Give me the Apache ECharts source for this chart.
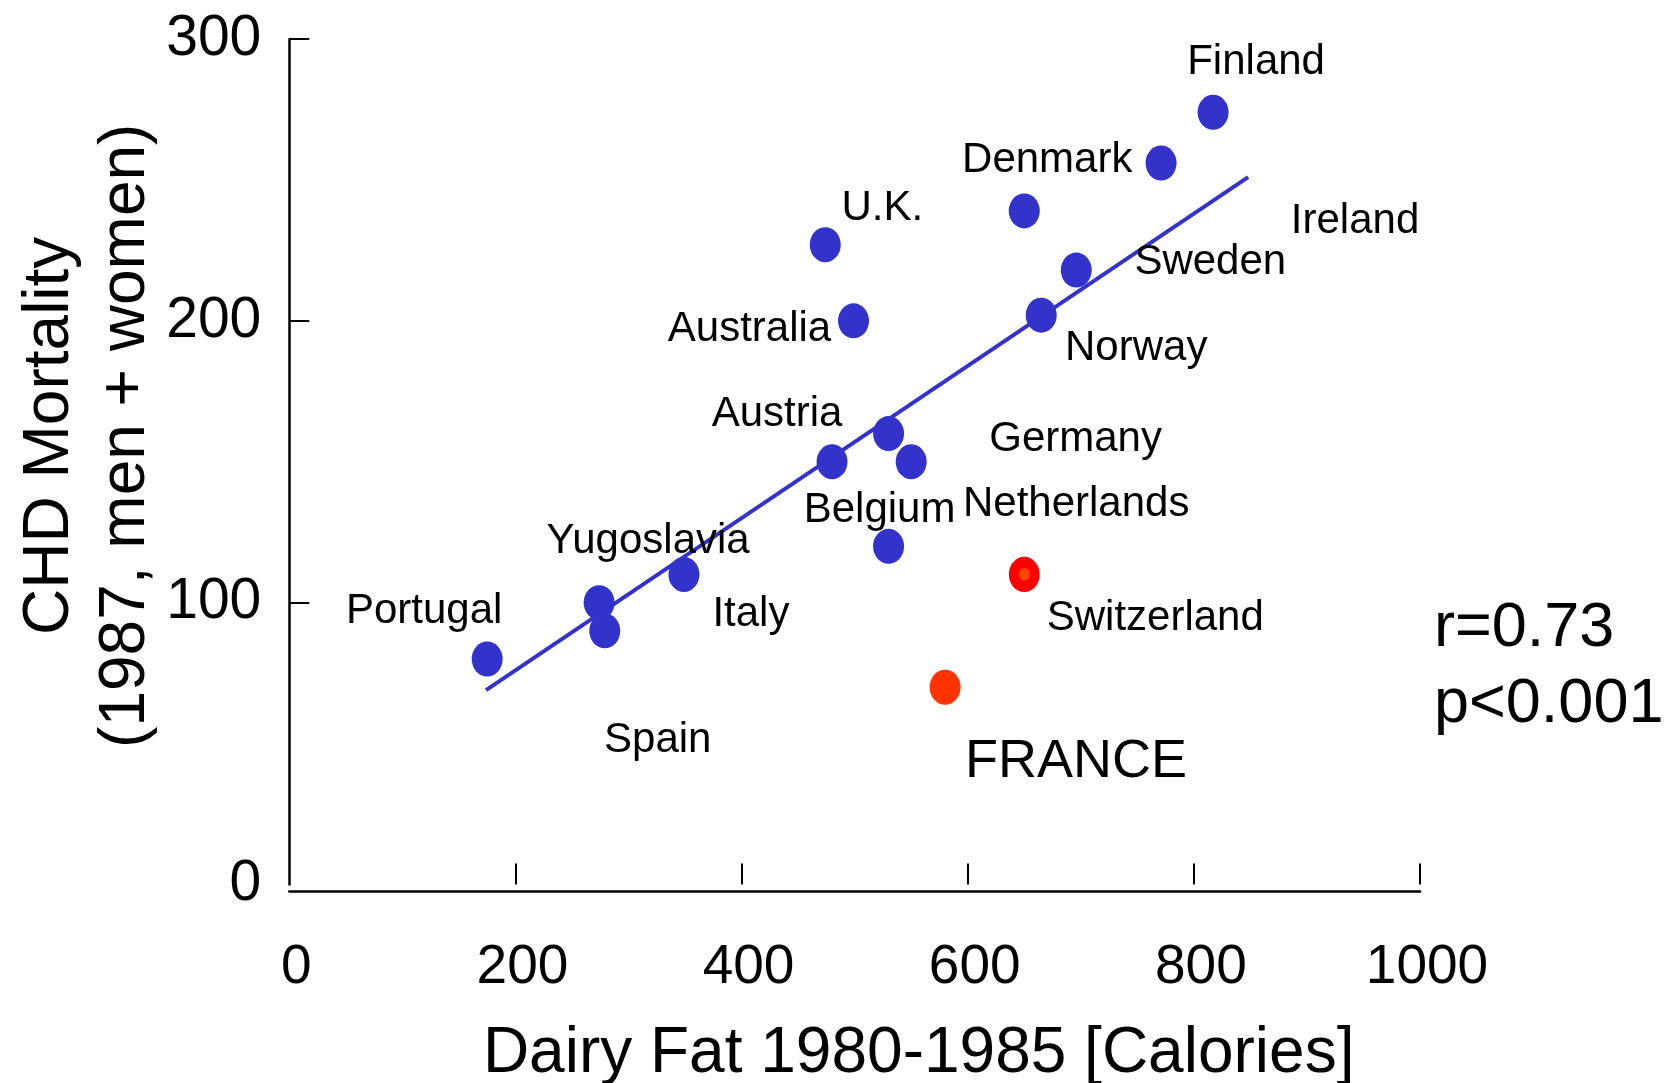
<!DOCTYPE html>
<html>
<head>
<meta charset="utf-8">
<title>Dairy fat vs CHD mortality</title>
<script src="https://cdn.jsdelivr.net/npm/echarts@6/dist/echarts.min.js"></script>
<style>
    html, body { margin: 0; padding: 0; background: #fff; }
    #dairy_scatter { width: 1669px; height: 1083px; }
</style>
</head>
<body>
<div id="dairy_scatter"></div>
<script>

// Data
// ------------------------------

var countries = ['Portugal', 'Yugoslavia', 'Spain', 'Italy', 'Austria', 'Germany', 'Netherlands', 'Belgium',
                 'Australia', 'U.K.', 'Denmark', 'Norway', 'Sweden', 'Ireland', 'Finland'];
var dairyFat = [175, 274, 279, 349, 480, 530, 550, 530, 499, 474, 650, 665, 696, 771, 817];
var chdMortality = [80, 100, 90, 110, 150, 160, 150, 120, 200, 227, 239, 202, 218, 256, 274];

var swissName = 'Switzerland';
var swissFat = 650;
var swissChd = 110;

var franceName = 'FRANCE';
var franceFat = 580;
var franceChd = 70;

var fitFat = [174, 848];
var fitChd = [69, 251];

var xTicks = [200, 400, 600, 800, 1000];
var yTicks = [100, 200, 300];


// Setup module
// ------------------------------

var DairyFatScatter = function() {

    var FONT = '"Liberation Sans", Arial, Helvetica, sans-serif';
    var ELLIPSE = 'path://M0,50 A50,50 0 1,0 100,50 A50,50 0 1,0 0,50 Z';

    // Label offsets from each dot centre, in pixels
    var labelOffsets = {
        'Portugal': [-63, -48],
        'Yugoslavia': [49, -61],
        'Spain': [53, 110],
        'Italy': [67, 40],
        'Austria': [-55, -47],
        'Germany': [187, 6],
        'Netherlands': [165, 43],
        'Belgium': [-9, -36],
        'Australia': [-104, 9],
        'U.K.': [57, -36],
        'Denmark': [23, -50],
        'Norway': [95, 33],
        'Sweden': [134, -8],
        'Ireland': [194, 58],
        'Finland': [43, -50],
        'Switzerland': [131, 44],
        'FRANCE': [131, 75]
    };

    var makeLabel = function(name, size) {
        return {
            show: true,
            formatter: '{b}',
            position: 'inside',
            offset: labelOffsets[name],
            align: 'center',
            verticalAlign: 'middle',
            color: '#000',
            opacity: 1,
            fontSize: size,
            fontFamily: FONT
        };
    };

    var _scatterExample = function() {
        if (typeof echarts == 'undefined') {
            console.warn('Warning - echarts.min.js is not loaded.');
            return;
        }

        var element = document.getElementById('dairy_scatter');
        if (!element) {
            return;
        }

        var chart = echarts.init(element, null, {renderer: 'canvas'});

        var blueData = countries.map(function(name, i) {
            return {
                name: name,
                value: [dairyFat[i], chdMortality[i]],
                label: makeLabel(name, 42)
            };
        });

        chart.setOption({
            animation: false,
            backgroundColor: '#fff',
            textStyle: {
                fontFamily: FONT
            },

            grid: {
                left: 289.3,
                right: 249,
                top: 39,
                bottom: 198.5,
                containLabel: false,
                outerBoundsMode: 'none'
            },

            xAxis: [
                // Ticks, sitting on the zero line of the y axis
                {
                    type: 'value',
                    position: 'bottom',
                    min: 0,
                    max: 1000,
                    interval: 200,
                    axisLine: {show: false},
                    axisTick: {
                        inside: true,
                        length: 21,
                        customValues: xTicks,
                        lineStyle: {color: '#000', width: 2}
                    },
                    axisLabel: {show: false},
                    splitLine: {show: false}
                },
                // Detached axis line with labels and title
                {
                    type: 'value',
                    position: 'bottom',
                    min: 0,
                    max: 1000,
                    interval: 200,
                    offset: 6.5,
                    name: 'Dairy Fat 1980-1985 [Calories]',
                    nameLocation: 'middle',
                    nameMoveOverlap: false,
                    nameGap: 131,
                    nameTextStyle: {
                        fontSize: 64,
                        color: '#000',
                        fontFamily: FONT,
                        padding: [0, 0, 0, 128]
                    },
                    axisLine: {
                        onZero: false,
                        lineStyle: {color: '#000', width: 2.5}
                    },
                    axisTick: {show: false},
                    axisLabel: {
                        fontSize: 55,
                        color: '#000',
                        margin: 49,
                        padding: [0, 0, 0, 14],
                        formatter: function(v) { return String(v); }
                    },
                    splitLine: {show: false}
                }
            ],

            yAxis: {
                type: 'value',
                min: 0,
                max: 300,
                interval: 100,
                name: 'CHD Mortality\n(1987, men + women)',
                nameLocation: 'middle',
                nameRotate: 90,
                nameMoveOverlap: false,
                nameGap: 125,
                nameTextStyle: {
                    fontSize: 64,
                    lineHeight: 76,
                    color: '#000',
                    fontFamily: FONT,
                    padding: [0, 0, 0, 52]
                },
                axisLine: {
                    onZero: false,
                    lineStyle: {color: '#000', width: 2.5}
                },
                axisTick: {
                    inside: true,
                    length: 20,
                    customValues: yTicks,
                    lineStyle: {color: '#000', width: 2}
                },
                axisLabel: {
                    fontSize: 57,
                    color: '#000',
                    margin: 28,
                    padding: [0, 0, 12, 0]
                },
                splitLine: {show: false}
            },

            graphic: [
                {
                    type: 'text',
                    left: 1434,
                    top: 597,
                    style: {text: 'r=0.73', fontSize: 63, fontFamily: FONT, fill: '#000'}
                },
                {
                    type: 'text',
                    left: 1434,
                    top: 673,
                    style: {text: 'p<0.001', fontSize: 63, fontFamily: FONT, fill: '#000'}
                }
            ],

            series: [
                {
                    name: 'Regression',
                    type: 'line',
                    xAxisIndex: 0,
                    data: [[fitFat[0], fitChd[0]], [fitFat[1], fitChd[1]]],
                    symbol: 'none',
                    lineStyle: {color: '#3333cc', width: 4},
                    z: 1
                },
                {
                    name: 'Countries',
                    type: 'scatter',
                    xAxisIndex: 0,
                    symbol: ELLIPSE,
                    symbolSize: [31, 35],
                    itemStyle: {color: '#3333cc', opacity: 1},
                    data: blueData,
                    z: 2
                },
                {
                    name: swissName,
                    type: 'scatter',
                    xAxisIndex: 0,
                    symbol: ELLIPSE,
                    symbolSize: [21, 24],
                    itemStyle: {color: '#ff4400', borderColor: '#ff0000', borderWidth: 10.5, opacity: 1},
                    data: [{name: swissName, value: [swissFat, swissChd], label: makeLabel(swissName, 42)}],
                    z: 3
                },
                {
                    name: franceName,
                    type: 'scatter',
                    xAxisIndex: 0,
                    symbol: ELLIPSE,
                    symbolSize: [31, 35],
                    itemStyle: {color: '#ff3300', opacity: 1},
                    data: [{name: franceName, value: [franceFat, franceChd], label: makeLabel(franceName, 54)}],
                    z: 3
                }
            ]
        });

        window.addEventListener('resize', function() {
            chart.resize();
        });
    };

    return {
        init: function() {
            _scatterExample();
        }
    };
}();


// Initialize module
// ------------------------------

document.addEventListener('DOMContentLoaded', function() {
    DairyFatScatter.init();
});
</script>
</body>
</html>
